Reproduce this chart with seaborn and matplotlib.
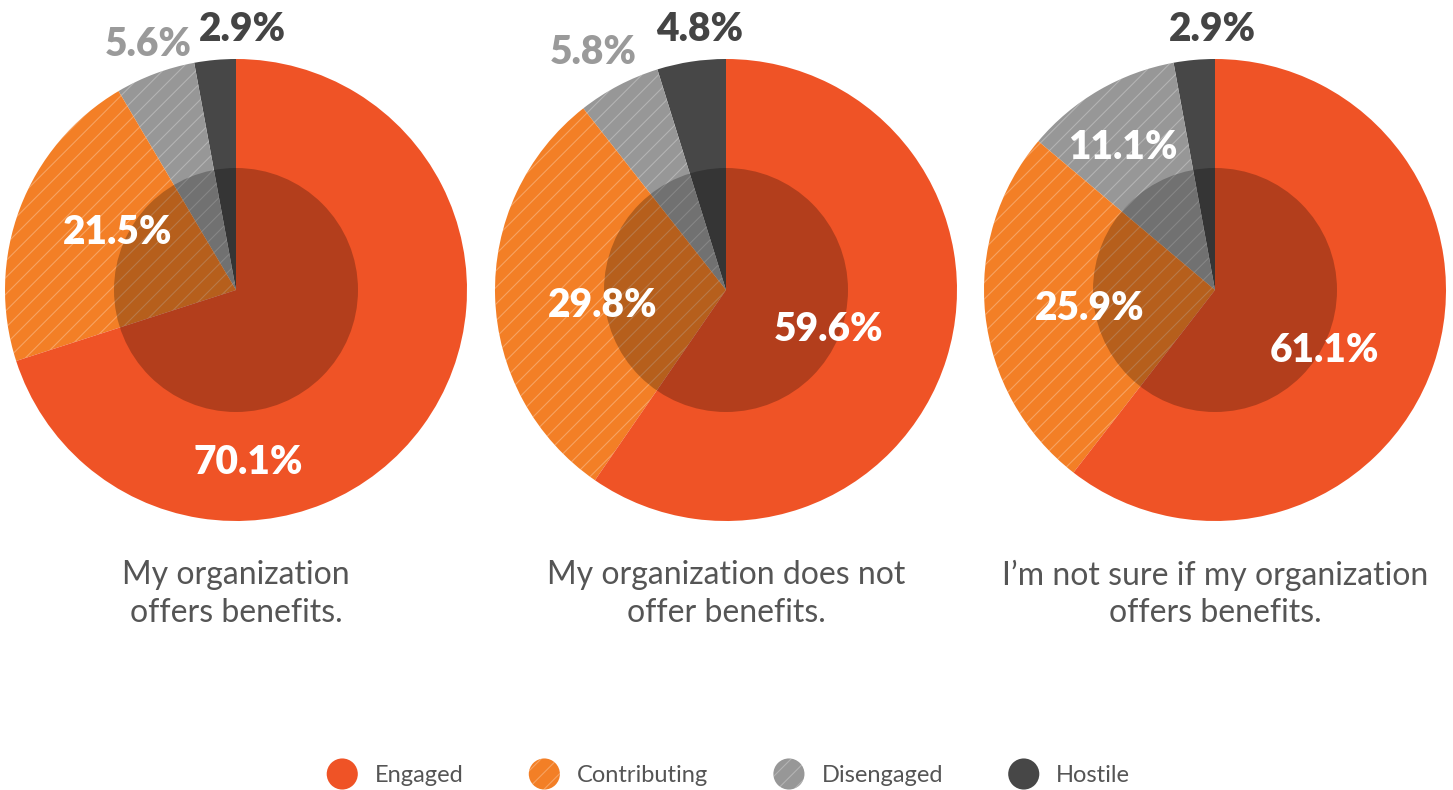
import matplotlib
matplotlib.use("Agg")
import matplotlib.pyplot as plt
import matplotlib.patches as mpatches
from matplotlib.legend_handler import HandlerPatch
import seaborn as sns

# -------------------------------
# Data
# -------------------------------
categories = ["Hostile", "Disengaged", "Contributing", "Engaged"]
legend_order = ["Engaged", "Contributing", "Disengaged", "Hostile"]
captions = [
    "My organization\noffers benefits.",
    "My organization does not\noffer benefits.",
    "I\u2019m not sure if my organization\noffers benefits.",
]
offers = [2.9, 5.6, 21.5, 70.1]
does_not = [4.8, 5.8, 29.8, 59.6]
not_sure = [2.9, 11.1, 25.9, 61.1]
series = [offers, does_not, not_sure]

# -------------------------------
# Style
# -------------------------------
sns.set_theme(style="white")
plt.rcParams["font.family"] = ["Lato", "DejaVu Sans"]
plt.rcParams["hatch.linewidth"] = 0.8

palette = sns.color_palette(["#474747", "#979797", "#F37F26", "#EF5326"])
colors = dict(zip(categories, palette))
hatches = {"Hostile": None, "Disengaged": "//", "Contributing": "//", "Engaged": None}

# label placement (in units of pie radius) and colours, per pie
label_pos = [
    [(0.03, 1.126), (-0.381, 1.061), (-0.511, 0.247), (0.052, -0.745)],
    [(-0.113, 1.126), (-0.576, 1.03), (-0.532, -0.065), (0.446, -0.173)],
    [(-0.009, 1.126), (-0.398, 0.615), (-0.541, -0.078), (0.476, -0.26)],
]
label_col = [
    ["#444444", "#9a9a9a", "white", "white"],
    ["#444444", "#9a9a9a", "white", "white"],
    ["#444444", "white", "white", "white"],
]

W, H = 1453, 790
centers = [236, 726, 1215]
cy, R = 290, 231

fig = plt.figure(figsize=(W / 100, H / 100), dpi=100)

for i, vals in enumerate(series):
    cx = centers[i]
    ax = fig.add_axes([(cx - R) / W, 1 - (cy + R) / H, 2 * R / W, 2 * R / H])
    wedges, _ = ax.pie(
        vals,
        colors=[colors[c] for c in categories],
        startangle=90,
        counterclock=True,
        radius=1,
        wedgeprops=dict(linewidth=0),
    )
    for w, c in zip(wedges, categories):
        if hatches[c]:
            w.set_hatch(hatches[c])
            w.set_edgecolor((1, 1, 1, 0.28))
            w.set_linewidth(0)
    ax.add_patch(mpatches.Circle((0, 0), 122 / R, color="black", alpha=0.25, lw=0, zorder=5))
    for v, (tx, ty), tc in zip(vals, label_pos[i], label_col[i]):
        ax.text(tx, ty, f"{v:.1f}%", ha="center", va="center", color=tc,
                fontsize=28, fontweight="heavy", zorder=10)
    ax.set_xlim(-1, 1)
    ax.set_ylim(-1, 1)
    ax.axis("off")
    fig.text(cx / W, 1 - 594 / H, captions[i], ha="center", va="center",
             fontsize=23, color="#555555", fontweight="normal", linespacing=1.3)

# -------------------------------
# Legend with round handles
# -------------------------------
def make_circle(legend, orig_handle, xdescent, ydescent, width, height, fontsize):
    r = height / 2
    return mpatches.Circle((width / 2 - xdescent, height / 2 - ydescent), r)

handles = [
    mpatches.Patch(facecolor=colors[c], hatch=hatches[c],
                   edgecolor=(1, 1, 1, 0.28) if hatches[c] else colors[c], linewidth=0)
    for c in legend_order
]
fig.legend(
    handles, legend_order, loc="center", bbox_to_anchor=(0.5, 1 - 774 / H),
    ncol=4, frameon=False, fontsize=17, handlelength=1.65, handleheight=1.65,
    handletextpad=0.55, columnspacing=2.6, labelcolor="#555555",
    handler_map={mpatches.Patch: HandlerPatch(patch_func=make_circle)},
)

fig.savefig("out.png", dpi=100)
